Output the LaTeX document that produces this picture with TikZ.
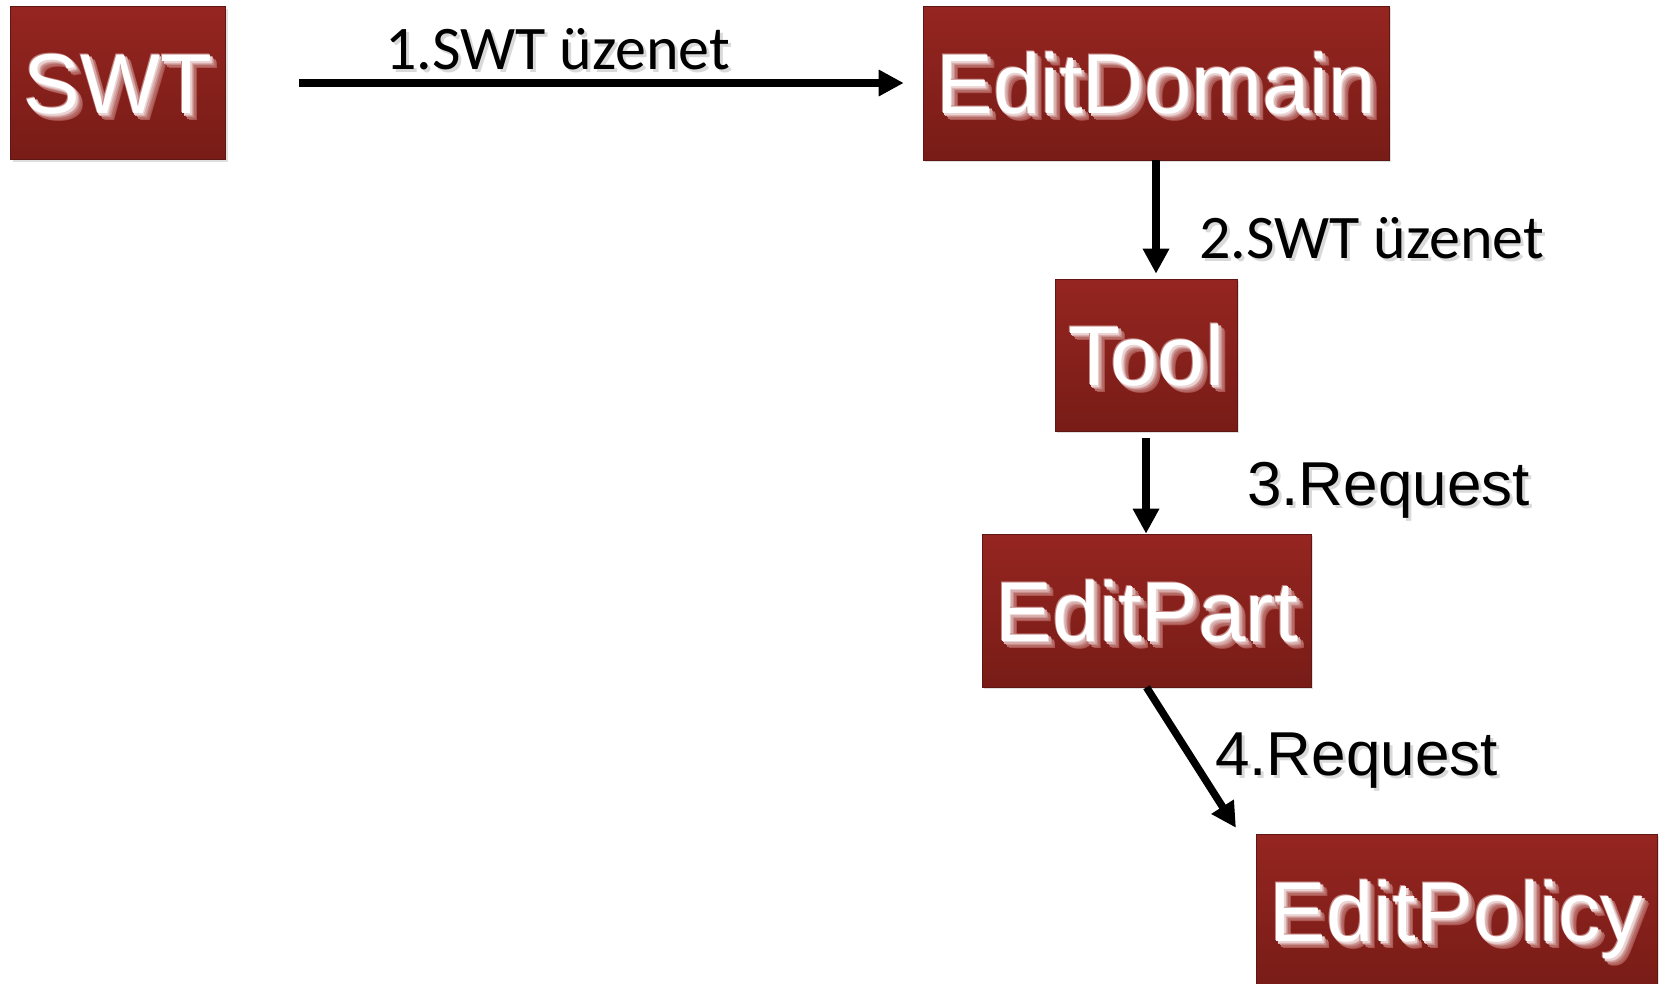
\documentclass[tikz,border=0pt]{standalone}
\usepackage{fontspec}
\setmainfont{Liberation Sans}
\newfontfamily\calibri{Carlito}
\usetikzlibrary{arrows.meta,shadows,calc}

\definecolor{boxtop}{HTML}{952520}
\definecolor{boxbot}{HTML}{781C17}

% white box text with a soft, graded pale halo below right
\newcommand\halo[3]{\rlap{\raisebox{-#1pt}{\hspace{#2pt}\textcolor{#3}{\phantomtext}}}}
\newcommand\glowword[1]{%
  \def\phantomtext{#1}%
  \halo{7}{7}{white!22!boxtop}%
  \halo{6}{5}{white!32!boxtop}%
  \halo{5}{6}{white!32!boxtop}%
  \halo{4}{4}{white!48!boxtop}%
  \halo{3}{2}{white!62!boxtop}%
  \halo{2}{3}{white!62!boxtop}%
  \halo{1.5}{1.5}{white!80!boxtop}%
  \halo{-1}{-1}{white!45!boxtop}%
  \textcolor{white}{#1}}
% black label text with a faint grey shadow
\newcommand\shadowword[1]{%
  \rlap{\raisebox{-3pt}{\hspace{3pt}\textcolor{black!15}{#1}}}#1}

\begin{document}
\begin{tikzpicture}[x=1pt,y=-1pt,
  block/.style={rectangle, inner sep=0pt, draw=boxbot!80!black, line width=0.6pt,
    top color=boxtop, bottom color=boxbot,
    drop shadow={shadow xshift=2pt, shadow yshift=-2pt, opacity=0.25},
    font=\fontsize{85}{85}\selectfont, text height=61pt, text depth=0pt},
  flow/.style={line width=7.5pt, -{Triangle[length=25pt,width=25pt]}},
  lbl/.style={anchor=base west, inner sep=0pt},
  callab/.style={lbl, font=\calibri\fontsize{62}{62}\selectfont},
  arilab/.style={lbl, font=\fontsize{62}{62}\selectfont}]

\useasboundingbox (0,0) rectangle (1668,983);
\fill[white] (0,0) rectangle (1668,983);

\node[block, minimum width=215pt, minimum height=153pt] (swt)    at (118,83)    {\glowword{SWT}};
\node[block, minimum width=466pt, minimum height=154pt] (dom)    at (1156,83)   {\glowword{EditDomain}};
\node[block, minimum width=182pt, minimum height=152pt] (tool)   at (1146,355)  {\glowword{Tool}};
\node[block, minimum width=329pt, minimum height=153pt] (part)   at (1146.5,610.5) {\glowword{EditPart}};
\node[block, minimum width=401pt, minimum height=154pt] (policy) at (1456.5,911) {\glowword{EditPolicy}};

\draw[flow, shorten <=73pt, shorten >=19pt] (swt.east) -- (dom.west);
\draw[flow, shorten >=5pt] (dom.south) -- (dom.south |- tool.north);
\draw[flow, shorten <=7pt] (tool.south) -- (tool.south |- part.north);
\draw[flow, shorten >=7pt] (part.south) -- ($(policy.north west)+(-16,0)$);

\node[callab] (l1) at (385,69)   {\shadowword{1.SWT üzenet}};
\node[callab] (l2) at (1199,258) {\shadowword{2.SWT üzenet}};
\node[arilab] (l3) at (1247,505) {\shadowword{3.Request}};
\node[arilab] (l4) at (1215,775) {\shadowword{4.Request}};
\end{tikzpicture}
\end{document}
